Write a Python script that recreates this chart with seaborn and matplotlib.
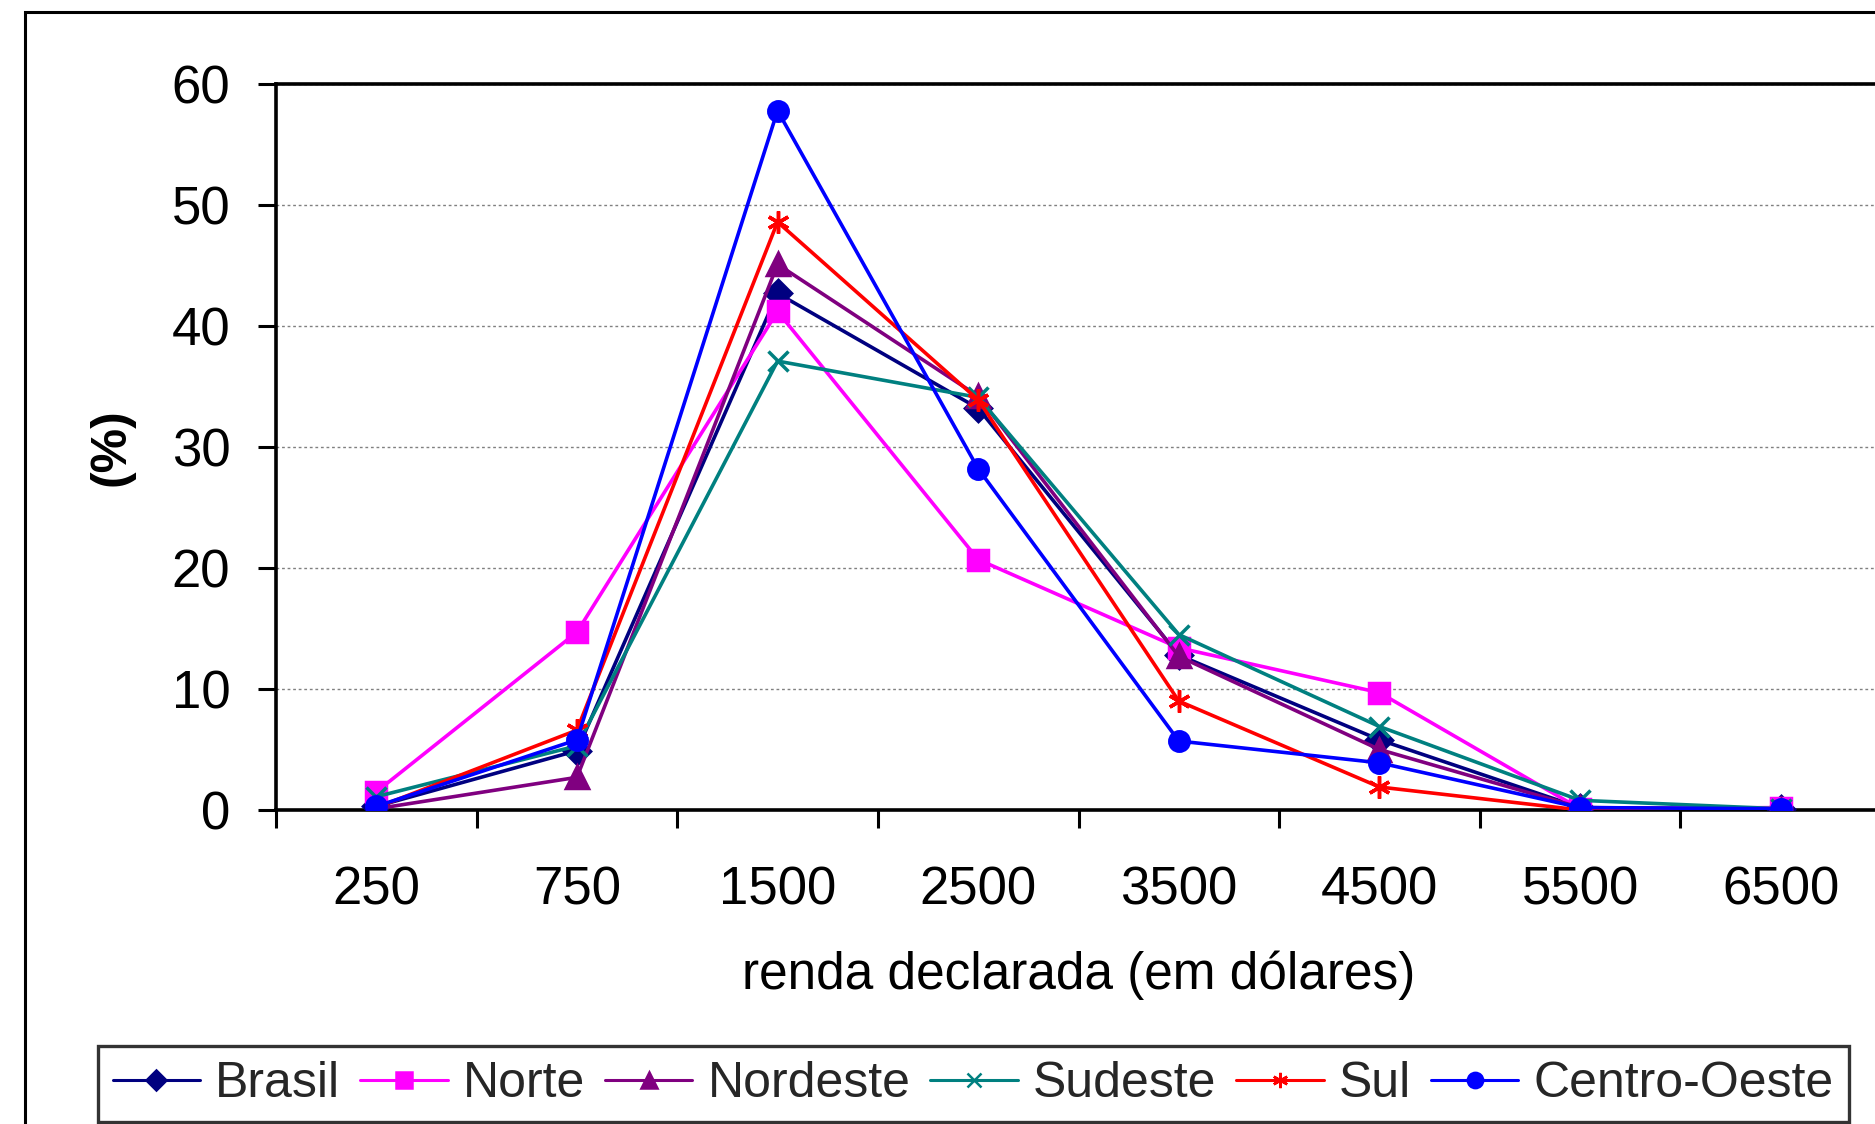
import matplotlib
matplotlib.use("Agg")
import matplotlib.pyplot as plt
from matplotlib.lines import Line2D
from matplotlib.patches import Rectangle
import numpy as np
import pandas as pd
import seaborn as sns

# Income brackets (US dollars) and share of respondents (%) per region
categories = ["250", "750", "1500", "2500", "3500", "4500", "5500", "6500"]
brasil = [0.3, 4.9, 42.7, 33.2, 12.8, 5.8, 0.2, 0.1]
norte = [1.5, 14.7, 41.2, 20.7, 13.4, 9.7, 0.1, 0.2]
nordeste = [0.1, 2.7, 45.1, 34.2, 12.7, 5.0, 0.2, 0.0]
sudeste = [1.1, 5.3, 37.1, 34.1, 14.5, 6.9, 0.8, 0.1]
sul = [0.2, 6.6, 48.6, 33.9, 9.0, 1.9, 0.0, 0.0]
centro_oeste = [0.3, 5.8, 57.8, 28.2, 5.7, 3.9, 0.2, 0.1]

regions = ["Brasil", "Norte", "Nordeste", "Sudeste", "Sul", "Centro-Oeste"]
series = [brasil, norte, nordeste, sudeste, sul, centro_oeste]
colors = ["#000080", "#FF00FF", "#800080", "#008080", "#FF0000", "#0000FF"]
markers = ["D", "s", "^", "x", (6, 2, 0), "o"]
sizes = [13, 14, 16, 14, 16, 14]
legend_sizes = [10, 11, 12, 10, 11, 11]

sns.set_theme(style="white")
plt.rcParams["font.family"] = ["Liberation Sans", "DejaVu Sans"]

fig = plt.figure(figsize=(18.75, 11.24), dpi=100)
ax = fig.add_axes([276 / 1875, 1 - 810 / 1124, (1881 - 276) / 1875, 726 / 1124])

for name, vals, col, mk, ms in zip(regions, series, colors, markers, sizes):
    df = pd.DataFrame({"renda": categories, "pct": vals})
    sns.pointplot(data=df, x="renda", y="pct", order=categories, color=col,
                  marker=mk, markersize=ms, linewidth=2.6, errorbar=None,
                  markeredgewidth=2.5, ax=ax, zorder=3)

ax.set_xlim(-0.5, len(categories) - 0.5)
ax.set_ylim(0, 60)
ax.set_yticks(np.arange(0, 61, 10))

# category labels centred, tick marks on the boundaries
ax.set_xticks(np.arange(len(categories)))
ax.set_xticklabels(categories)
ax.set_xticks(np.arange(len(categories) + 1) - 0.5, minor=True)
ax.tick_params(axis="x", which="major", length=0, pad=40, labelsize=38, colors="black")
ax.tick_params(axis="x", which="minor", length=13, width=2.2, direction="out",
               color="black", bottom=True)
ax.tick_params(axis="y", which="major", length=13, width=2.2, direction="out",
               pad=20, labelsize=38, colors="black", left=True)

ax.yaxis.grid(True, color="#808080", linestyle=(0, (2, 2)), linewidth=1.0)
ax.xaxis.grid(False)
ax.set_axisbelow(True)

for side in ["left", "bottom", "top"]:
    ax.spines[side].set_visible(True)
    ax.spines[side].set_color("black")
    ax.spines[side].set_linewidth(2.6)
ax.spines["right"].set_visible(False)

ax.set_xlabel("renda declarada (em dólares)", fontsize=37, color="black")
ax.xaxis.set_label_coords(0.5, -0.193)
ax.set_ylabel("(%)", fontsize=36, fontweight="bold", color="black")
ax.yaxis.set_label_coords(-0.088, 0.5)

# chart frame
fig.patches.append(Rectangle((25 / 1875, -0.05), 1.2, 1 - 12 / 1124 + 0.05,
                             transform=fig.transFigure, fill=False,
                             edgecolor="black", linewidth=2.2, zorder=0))

handles = [Line2D([0], [0], color=c, marker=m, markersize=s, linewidth=2.2,
                  markeredgewidth=1.8)
           for c, m, s in zip(colors, markers, legend_sizes)]
leg = fig.legend(handles, regions, ncol=6, loc="center",
                 bbox_to_anchor=(973 / 1875, 1 - 1084 / 1124),
                 fontsize=36, frameon=True, fancybox=False,
                 handlelength=1.75, handletextpad=0.3, columnspacing=0.4,
                 borderpad=0.3, borderaxespad=0)
leg.get_frame().set_edgecolor("black")
leg.get_frame().set_linewidth(2.4)

fig.savefig("out.png", dpi=100, facecolor="white")
